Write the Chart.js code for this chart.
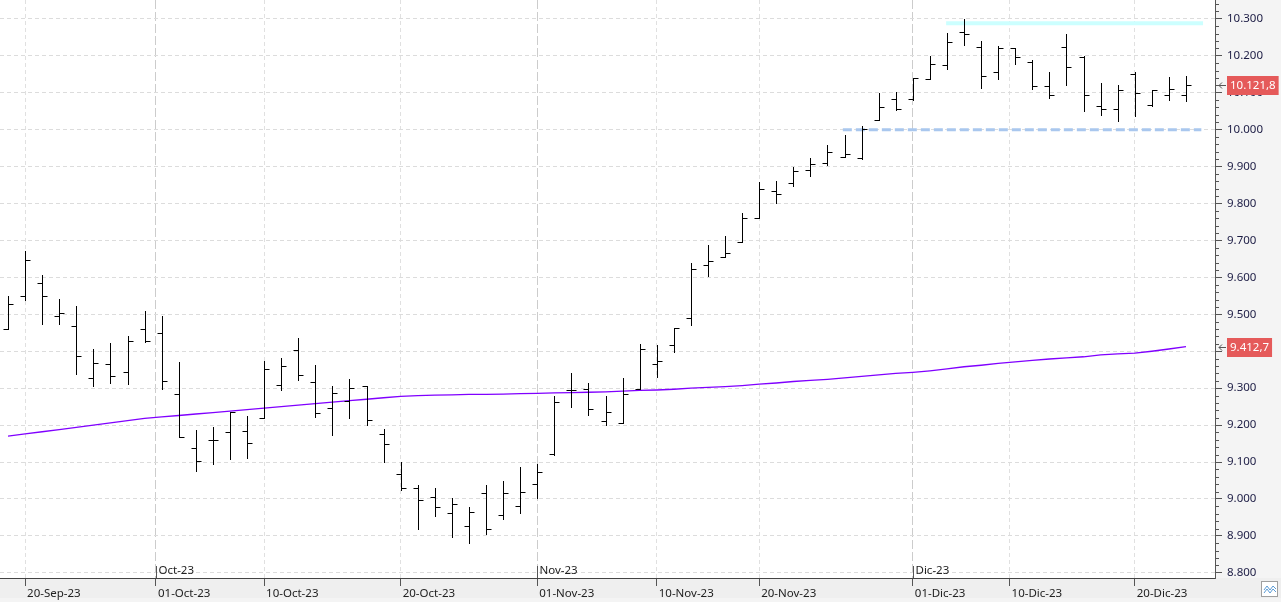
<!DOCTYPE html>
<html>
<head>
<meta charset="utf-8">
<title>IBEX 35 - diario</title>
<script src="https://cdn.jsdelivr.net/npm/chart.js@4.4.1/dist/chart.umd.min.js"></script>
<style>
  html, body { margin: 0; padding: 0; background: #f4f4f4; overflow: hidden; }
  #wrap { width: 1281px; height: 602px; }
</style>
</head>
<body>
<div id="wrap"><canvas id="chart" width="1281" height="602"></canvas></div>
<script>
// Sesiones (días hábiles) mostradas en el gráfico
const dates = [
  "2023-09-19", "2023-09-20", "2023-09-21", "2023-09-22", "2023-09-25", "2023-09-26", "2023-09-27", "2023-09-28", "2023-09-29",
  "2023-10-02", "2023-10-03", "2023-10-04", "2023-10-05", "2023-10-06", "2023-10-09", "2023-10-10", "2023-10-11", "2023-10-12",
  "2023-10-13", "2023-10-16", "2023-10-17", "2023-10-18", "2023-10-19", "2023-10-20", "2023-10-23", "2023-10-24", "2023-10-25",
  "2023-10-26", "2023-10-27", "2023-10-30", "2023-10-31",
  "2023-11-01", "2023-11-02", "2023-11-03", "2023-11-06", "2023-11-07", "2023-11-08", "2023-11-09", "2023-11-10", "2023-11-13",
  "2023-11-14", "2023-11-15", "2023-11-16", "2023-11-17", "2023-11-20", "2023-11-21", "2023-11-22", "2023-11-23", "2023-11-24",
  "2023-11-27", "2023-11-28", "2023-11-29", "2023-11-30",
  "2023-12-01", "2023-12-04", "2023-12-05", "2023-12-06", "2023-12-07", "2023-12-08", "2023-12-11", "2023-12-12", "2023-12-13",
  "2023-12-14", "2023-12-15", "2023-12-18", "2023-12-19", "2023-12-20", "2023-12-21", "2023-12-22", "2023-12-27"
];

// Barras OHLC
const opens = [
  9461, 9549, 9585, 9495, 9468, 9327, 9365, 9343, 9460, 9449,
  9284, 9138, 9159, 9181, 9183, 9219, 9309, 9403, 9316, 9246,
  9266, 9305, 9175, 9067, 9030, 9006, 8962, 8926, 9016, 8956,
  8981, 9040, 9123, 9295, 9298, 9210, 9205, 9297, 9365, 9417,
  9491, 9634, 9656, 9697, 9762, 9833, 9855, 9892, 9909, 9927,
  9924, 10027, 10082, 10083, 10138, 10175, 10265, 10224, 10155, 10221,
  10184, 10117, 10224, 10196, 10064, 10055, 10151, 10066, 10094, 10094
];
const highs = [
  9549, 9671, 9607, 9541, 9522, 9406, 9422, 9441, 9509, 9495,
  9371, 9186, 9194, 9235, 9225, 9373, 9381, 9435, 9362, 9305,
  9324, 9305, 9190, 9100, 9037, 9030, 9002, 8979, 9037, 9048,
  9086, 9094, 9278, 9341, 9314, 9278, 9327, 9420, 9417, 9462,
  9638, 9687, 9711, 9775, 9857, 9861, 9898, 9922, 9958, 9986,
  10011, 10098, 10103, 10140, 10200, 10262, 10300, 10240, 10227, 10222,
  10188, 10157, 10258, 10199, 10125, 10121, 10156, 10107, 10143, 10146
];
const lows = [
  9461, 9540, 9475, 9475, 9337, 9307, 9313, 9310, 9425, 9299,
  9167, 9077, 9096, 9109, 9112, 9219, 9296, 9321, 9223, 9174,
  9220, 9201, 9101, 9025, 8920, 8953, 8898, 8880, 8904, 8947,
  8961, 9002, 9120, 9250, 9226, 9201, 9205, 9297, 9329, 9399,
  9471, 9604, 9656, 9697, 9762, 9801, 9848, 9875, 9903, 9926,
  9921, 10027, 10054, 10081, 10138, 10164, 10230, 10113, 10138, 10177,
  10110, 10086, 10122, 10050, 10039, 10023, 10036, 10064, 10081, 10078
];
const closes = [
  9528, 9647, 9549, 9504, 9387, 9368, 9334, 9427, 9427, 9319,
  9167, 9103, 9159, 9235, 9151, 9351, 9359, 9335, 9232, 9286,
  9300, 9214, 9148, 9030, 8997, 8979, 8986, 8964, 8918, 9016,
  9018, 9074, 9262, 9294, 9244, 9235, 9283, 9405, 9373, 9462,
  9624, 9643, 9667, 9762, 9840, 9827, 9889, 9906, 9940, 9934,
  10003, 10062, 10057, 10140, 10178, 10238, 10258, 10146, 10221, 10197,
  10119, 10094, 10170, 10094, 10055, 10106, 10100, 10106, 10110, 10121.8
];

// Media móvil
const maValues = [
  9170, 9176, 9182, 9188, 9194, 9200, 9206, 9212, 9218, 9222,
  9226, 9230, 9234, 9238, 9242, 9246, 9250, 9254, 9258, 9262,
  9266, 9270, 9274, 9278, 9280, 9281, 9282, 9283, 9283, 9284,
  9285, 9286, 9287, 9288, 9289, 9290, 9292, 9294, 9295, 9297,
  9300, 9302, 9304, 9307, 9311, 9314, 9318, 9321, 9324, 9328,
  9332, 9336, 9340, 9343, 9347, 9352, 9358, 9362, 9367, 9371,
  9375, 9379, 9382, 9385, 9390, 9393, 9395, 9400, 9406, 9412.7
];

// Líneas horizontales dibujadas (soporte / resistencia), en sesiones y puntos
const supportLevel = 10000;
const supportFrom = 48.9;
const supportTo = 69.9;
const resistanceLevel = 10288;
const resistanceFrom = 54.95;
const resistanceTo = 70.0;

// Etiquetas del eje X
const tickDates = ["2023-09-20", "2023-10-01", "2023-10-10", "2023-10-20", "2023-11-01", "2023-11-10", "2023-11-20", "2023-12-01", "2023-12-10", "2023-12-20"];
const tickLabels = ["20-Sep-23", "01-Oct-23", "10-Oct-23", "20-Oct-23", "01-Nov-23", "10-Nov-23", "20-Nov-23", "01-Dic-23", "10-Dic-23", "20-Dic-23"];
const monthDates = ["2023-10-01", "2023-11-01", "2023-12-01"];
const monthLabels = ["Oct-23", "Nov-23", "Dic-23"];

const FONT = "'Noto Sans', 'DejaVu Sans', sans-serif";

// Posición (en sesiones) de una fecha de calendario, interpolando fines de semana
function posOfDate(str) {
  const t = Date.parse(str);
  for (let i = 0; i < dates.length; i++) {
    const ti = Date.parse(dates[i]);
    if (ti === t) return i;
    if (ti > t) {
      if (i === 0) return 0;
      const tp = Date.parse(dates[i - 1]);
      return i - 1 + (t - tp) / (ti - tp);
    }
  }
  return dates.length - 1;
}

const tickPos = tickDates.map(posOfDate);
const monthPos = monthDates.map(posOfDate);

// Formato europeo: 10.300 / 10.121,8
function fmtInt(v) {
  return String(Math.round(v)).replace(/\B(?=(\d{3})+(?!\d))/g, ".");
}
function fmtDec(v) {
  const s = v.toFixed(1).split(".");
  return s[0].replace(/\B(?=(\d{3})+(?!\d))/g, ".") + "," + s[1];
}

// Fondo: zona del gráfico blanca, paneles de ejes grises
const backgroundPlugin = {
  id: "background",
  beforeDraw(chart) {
    const { ctx, chartArea: a } = chart;
    ctx.save();
    ctx.fillStyle = "#f4f4f4";
    ctx.fillRect(0, 0, chart.width, chart.height);
    ctx.fillStyle = "#efefef";
    ctx.fillRect(0, a.bottom, chart.width, 20);
    ctx.fillStyle = "#ffffff";
    ctx.fillRect(a.left, a.top, a.right - a.left, a.bottom - a.top);
    ctx.restore();
  }
};

// Barras OHLC (apertura a la izquierda, cierre a la derecha)
const ohlcPlugin = {
  id: "ohlc",
  afterDatasetsDraw(chart) {
    const { ctx, scales: { x, y } } = chart;
    ctx.save();
    ctx.strokeStyle = "#000000";
    ctx.lineWidth = 1;
    ctx.beginPath();
    for (let i = 0; i < closes.length; i++) {
      const px = Math.round(x.getPixelForValue(i)) + 0.5;
      const yh = Math.round(y.getPixelForValue(highs[i]));
      const yl = Math.round(y.getPixelForValue(lows[i]));
      const yo = Math.round(y.getPixelForValue(opens[i])) + 0.5;
      const yc = Math.round(y.getPixelForValue(closes[i])) + 0.5;
      ctx.moveTo(px, yh);
      ctx.lineTo(px, yl + 1);
      ctx.moveTo(px - 5, yo);
      ctx.lineTo(px, yo);
      ctx.moveTo(px, yc);
      ctx.lineTo(px + 5, yc);
    }
    ctx.stroke();
    ctx.restore();
  }
};

// Detalles: meses, subdivisiones del eje, etiquetas de precio, icono
const decorPlugin = {
  id: "decor",
  afterDraw(chart) {
    const { ctx, chartArea: a, scales: { x, y } } = chart;
    ctx.save();

    // marcas menores del eje de precios
    ctx.strokeStyle = "#555555";
    ctx.lineWidth = 1;
    ctx.beginPath();
    for (let v = 8800; v <= 10340; v += 20) {
      if (v % 100 === 0) continue;
      const py = Math.round(y.getPixelForValue(v)) + 0.5;
      ctx.moveTo(a.right, py);
      ctx.lineTo(a.right + 4, py);
    }
    ctx.stroke();

    // etiquetas de mes sobre el eje
    ctx.font = "11.5px " + FONT;
    ctx.fillStyle = "#222222";
    ctx.textBaseline = "middle";
    ctx.textAlign = "left";
    monthPos.forEach((p, i) => {
      const px = Math.round(x.getPixelForValue(p)) + 0.5;
      ctx.beginPath();
      ctx.moveTo(px, a.bottom - 12);
      ctx.lineTo(px, a.bottom);
      ctx.stroke();
      ctx.fillText(monthLabels[i], px + 2, a.bottom - 7);
    });

    // etiquetas del último valor
    const tags = [
      { v: closes[closes.length - 1], text: fmtDec(closes[closes.length - 1]) },
      { v: maValues[maValues.length - 1], text: fmtDec(maValues[maValues.length - 1]) }
    ];
    tags.forEach((t) => {
      const py = Math.round(y.getPixelForValue(t.v));
      const w = ctx.measureText(t.text).width + 6;
      ctx.fillStyle = "#e55a5a";
      ctx.fillRect(a.right + 12, py - 9, w, 19);
      ctx.fillStyle = "#ffffff";
      ctx.fillText(t.text, a.right + 15, py + 1);
      // flecha
      ctx.strokeStyle = "#555555";
      ctx.beginPath();
      ctx.moveTo(a.right + 4, py + 0.5);
      ctx.lineTo(a.right + 11, py + 0.5);
      ctx.moveTo(a.right + 4, py + 0.5);
      ctx.lineTo(a.right + 7, py - 2.5);
      ctx.moveTo(a.right + 4, py + 0.5);
      ctx.lineTo(a.right + 7, py + 3.5);
      ctx.stroke();
    });

    // icono abajo a la derecha
    ctx.fillStyle = "#ffffff";
    ctx.fillRect(1261, 581, 17, 16);
    ctx.strokeStyle = "#a0a0a0";
    ctx.strokeRect(1261.5, 581.5, 16, 15);
    ctx.strokeStyle = "#5b9bd5";
    ctx.beginPath();
    ctx.moveTo(1264, 590); ctx.lineTo(1267, 586); ctx.lineTo(1270, 590); ctx.lineTo(1273, 586); ctx.lineTo(1276, 589);
    ctx.moveTo(1264, 593); ctx.lineTo(1267, 589); ctx.lineTo(1270, 593); ctx.lineTo(1273, 589); ctx.lineTo(1276, 592);
    ctx.stroke();

    ctx.restore();
  }
};

document.addEventListener("DOMContentLoaded", () => {
  const ctx = document.getElementById("chart").getContext("2d");

  new Chart(ctx, {
    type: "line",
    data: {
      datasets: [
        {
          label: "Soporte",
          data: [{ x: supportFrom, y: supportLevel }, { x: supportTo, y: supportLevel }],
          borderColor: "#a9c7ee",
          borderWidth: 3,
          borderDash: [9, 4],
          pointRadius: 0
        },
        {
          label: "Resistencia",
          data: [{ x: resistanceFrom, y: resistanceLevel }, { x: resistanceTo, y: resistanceLevel }],
          borderColor: "#ccffff",
          borderWidth: 4,
          pointRadius: 0
        },
        {
          label: "Media",
          data: maValues.map((v, i) => ({ x: i, y: v })),
          borderColor: "#8000ff",
          borderWidth: 1.3,
          pointRadius: 0,
          tension: 0
        }
      ]
    },
    options: {
      responsive: false,
      animation: false,
      layout: { padding: 0, autoPadding: false },
      plugins: { legend: { display: false }, tooltip: { enabled: false } },
      scales: {
        x: {
          type: "linear",
          position: "bottom",
          min: -0.47,
          max: 70.7,
          afterBuildTicks: (s) => {
            s.ticks = tickPos.map((v) => ({ value: v }));
          },
          afterFit: (s) => {
            s.height = 24;
            s.paddingLeft = 0;
            s.paddingRight = 0;
          },
          ticks: {
            callback: (v, i) => tickLabels[i],
            autoSkip: false,
            maxRotation: 0,
            minRotation: 0,
            align: "start",
            labelOffset: 2,
            padding: 1,
            color: "#222222",
            font: { family: FONT, size: 11.5 }
          },
          grid: {
            color: (c) => (c.tick && tickLabels[c.index] && tickLabels[c.index].startsWith("01-") ? "#cccccc" : "#e0e0e0"),
            tickLength: 8,
            tickColor: "#555555",
            lineWidth: 1
          },
          border: {
            display: true,
            color: "#444444",
            width: 1,
            dash: (c) => (c.tick && tickLabels[c.index] && tickLabels[c.index].startsWith("01-") ? [9, 3] : [4, 3])
          }
        },
        y: {
          type: "linear",
          position: "right",
          min: 8786,
          max: 10351,
          afterFit: (s) => {
            s.width = 66;
            s.paddingTop = 0;
            s.paddingBottom = 0;
          },
          ticks: {
            stepSize: 20,
            includeBounds: false,
            autoSkip: false,
            callback: (v) => (v % 100 === 0 ? fmtInt(v) : ""),
            padding: 5,
            color: "#1c1c44",
            font: { family: FONT, size: 11.5 }
          },
          grid: {
            color: (c) => (c.tick && c.tick.value % 100 === 0 ? "#dcdcdc" : "rgba(0,0,0,0)"),
            tickColor: (c) => (c.tick && c.tick.value % 100 === 0 ? "#555555" : "rgba(0,0,0,0)"),
            tickLength: 7,
            lineWidth: 1
          },
          border: {
            display: true,
            color: "#555555",
            width: 1,
            dash: [4, 3]
          }
        }
      }
    },
    plugins: [backgroundPlugin, ohlcPlugin, decorPlugin]
  });
});
</script>
</body>
</html>
